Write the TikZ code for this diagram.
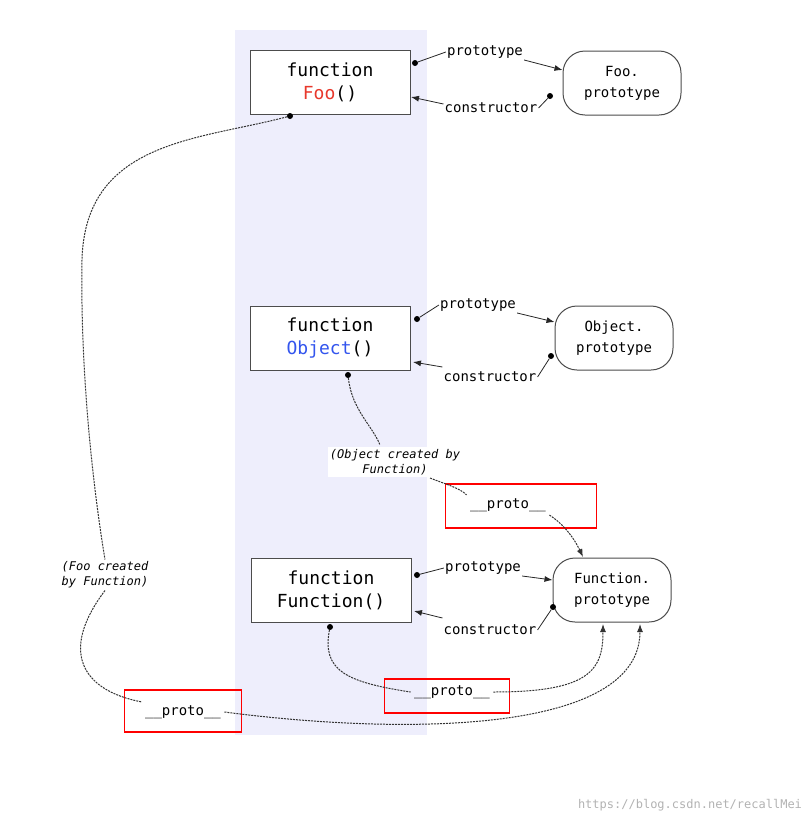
\documentclass[tikz,border=0pt]{standalone}
\usepackage{fontspec}
\setmainfont{DejaVu Sans Mono}
\usetikzlibrary{arrows.meta}
\definecolor{band}{HTML}{EEEEFC}
\definecolor{fooR}{HTML}{E8382C}
\definecolor{objB}{HTML}{3355EE}
\begin{document}
\begin{tikzpicture}[x=1pt,y=-1pt,
  box/.style={draw=black!70,line width=1pt,fill=white,minimum width=160pt,minimum height=64pt,align=center,font=\fontsize{18}{23}\selectfont},
  pbox/.style={draw=black!70,line width=1pt,fill=white,rounded corners=22pt,minimum width=118pt,minimum height=64pt,align=center,font=\fontsize{14}{21}\selectfont},
  lab/.style={font=\fontsize{14}{16}\selectfont,inner sep=1pt},
  ital/.style={font=\itshape\fontsize{12}{15}\selectfont,align=center,fill=white,inner sep=2pt},
  red/.style={draw=red,line width=1.5pt,font=\fontsize{14}{16}\selectfont},
  dot/.style={circle,fill=black,inner sep=0pt,minimum size=6pt},
  arr/.style={-{Latex[length=8pt,width=6pt]},line width=0.8pt,black!85},
  ln/.style={line width=0.8pt,black!85},
  dsh/.style={dash pattern=on 2pt off 1pt,line width=1pt,black!80}]
\useasboundingbox (0,0) rectangle (805,825);
\fill[band] (235,30) rectangle (427,735);
% boxes
\node[box] (foo) at (330,82) {function\\\textcolor{fooR}{Foo}()};
\node[box] (obj) at (330,338) {function\\\textcolor{objB}{Object}()};
\node[box] (fun) at (331,590) {function\\Function()};
\node[pbox] (foop) at (622,83) {Foo.\\prototype};
\node[pbox] (objp) at (614,338) {Object.\\prototype};
\node[pbox] (funp) at (612,590) {Function.\\prototype};
% labels
\node[lab] (l1) at (485,52) {prototype};
\node[lab] (l2) at (491,108) {constructor};
\node[lab] (l3) at (478,305) {prototype};
\node[lab] (l4) at (490,377) {constructor};
\node[lab] (l5) at (483,568) {prototype};
\node[lab] (l6) at (490,630) {constructor};
% dots
\node[dot] (d1) at (415,63) {};
\node[dot] (d2) at (550,96) {};
\node[dot] (d3) at (417,319) {};
\node[dot] (d4) at (551,356) {};
\node[dot] (d5) at (417,575) {};
\node[dot] (d6) at (553,607) {};
\node[dot] (df) at (290,116) {};
\node[dot] (dob) at (348,375) {};
\node[dot] (dfu) at (330,627) {};
\coordinate (fpTop) at (583,557);
\coordinate (fpB1) at (603,624);
\coordinate (fpB2) at (640,624);
% prototype / constructor arrows
\draw[ln] (d1) -- (l1.west);
\draw[arr] (l1.east)++(0,8) -- (foop.west|-0,70);
\draw[ln] (d2) -- (l2.east);
\draw[arr] (l2.west)+(0,-4) -- (411,97);
\draw[ln] (d3) -- (l3.west);
\draw[arr] (l3.east)++(0,8) -- (objp.west|-0,322);
\draw[ln] (d4) -- (l4.east);
\draw[arr] (l4.west)+(0,-10) -- (413,362);
\draw[ln] (d5) -- (l5.west);
\draw[arr] (l5.east)++(0,8) -- (funp.west|-0,580);
\draw[ln] (d6) -- (l6.east);
\draw[arr] (l6.west)+(0,-12) -- (414,611);
% italic labels
\node[ital] (oc) at (395,462) {(Object created by\\Function)};
\node[ital,fill=none] (fc) at (105,575) {(Foo created\\by Function)};
% proto boxes
\node[red,minimum width=151pt,minimum height=44pt] (p1) at (521,506) {};
\node[font=\fontsize{14}{16}\selectfont] (t1) at (508,505) {\_\_proto\_\_};
\node[red,minimum width=125pt,minimum height=34pt] (p2) at (447,696) {};
\node[font=\fontsize{14}{16}\selectfont] (t2) at (452,692) {\_\_proto\_\_};
\node[red,minimum width=117pt,minimum height=42pt] (p3) at (183,711) {};
\node[font=\fontsize{14}{16}\selectfont] (t3) at (183,712) {\_\_proto\_\_};
% dashed connectors
\draw[dsh] (dob) .. controls (352,410) and (372,425) .. (380,445);
\draw[dsh] (430,478) .. controls (445,484) and (460,488) .. (t1.north west);
\draw[dsh,-{Latex[length=8pt,width=6pt]}] (t1.south east) .. controls (565,525) and (575,540) .. (fpTop);
\draw[dsh] (dfu) .. controls (322,670) and (345,682) .. (t2.west);
\draw[dsh,-{Latex[length=8pt,width=6pt]}] (t2.east) .. controls (590,692) and (603,670) .. (fpB1);
\draw[dsh] (df) .. controls (200,140) and (85,140) .. (82,260) .. controls (80,380) and (95,500) .. (fc.north);
\draw[dsh] (fc.south) .. controls (60,650) and (80,690) .. (t3.north west);
\draw[dsh,-{Latex[length=8pt,width=6pt]}] (t3.east) .. controls (400,735) and (640,735) .. (fpB2);
% watermark
\node[font=\fontsize{12}{14}\selectfont,text=black!30] (wm) at (690,805) {https://blog.csdn.net/recallMei};
\end{tikzpicture}
\end{document}
